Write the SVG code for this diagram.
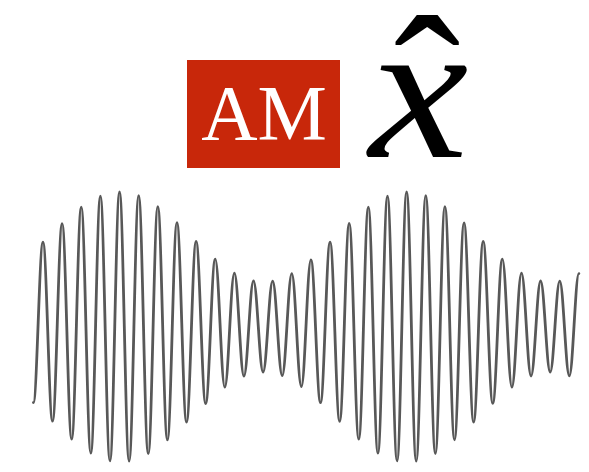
<svg xmlns="http://www.w3.org/2000/svg" width="589" height="472" viewBox="0 0 589 472">
<style>
.box{fill:#C8270A}
.am{font-family:"Liberation Serif","Times New Roman",serif;font-size:78px;fill:#ffffff}
.math{font-family:"Liberation Serif","Times New Roman",serif;font-size:200px;fill:#000000}
.wave{fill:none;stroke:#585858;stroke-width:2.8;stroke-linecap:round;stroke-linejoin:round}
</style>
<rect width="589" height="472" fill="#ffffff"/>
<g id="am-label">
<rect class="box" x="187" y="60" width="153" height="108"/>
<text class="am" x="264" y="139" text-anchor="middle">AM</text>
</g>
<g id="xhat">
<text class="math" transform="translate(369,157) scale(1.12,1)" font-style="italic">x</text>
<text class="math" x="427" y="154" text-anchor="middle">ˆ</text>
</g>
<g id="waveform">
<path class="wave" d="M33.4,402.6 C36.89,402.6 39.48,242.2 42.97,242.2 S49.05,421.2 52.54,421.2 S58.62,223.6 62.11,223.6 S68.19,439.1 71.68,439.1 S77.76,207.2 81.25,207.2 S87.33,453.1 90.82,453.1 S96.9,196.1 100.39,196.1 S106.47,460.9 109.96,460.9 S116.04,192 119.53,192 S125.61,461.1 129.1,461.1 S135.18,195.7 138.67,195.7 S144.75,453.7 148.24,453.7 S154.32,206.6 157.81,206.6 S163.89,439.9 167.38,439.9 S173.46,222.7 176.95,222.7 S183.03,422.2 186.52,422.2 S192.6,241.3 196.09,241.3 S202.17,403.5 205.66,403.5 S211.74,259.1 215.23,259.1 S221.31,387.2 224.8,387.2 S230.88,273.2 234.37,273.2 S240.45,376.1 243.94,376.1 S250.02,280.9 253.51,280.9 S259.59,372 263.08,372 S269.16,281.1 272.65,281.1 S278.73,375.7 282.22,375.7 S288.3,273.6 291.79,273.6 S297.87,386.6 301.36,386.6 S307.44,259.8 310.93,259.8 S317.01,402.7 320.5,402.7 S326.58,242.1 330.07,242.1 S336.15,421.3 339.64,421.3 S345.72,223.5 349.21,223.5 S355.29,439.2 358.78,439.2 S364.86,207.2 368.35,207.2 S374.43,453.2 377.92,453.2 S384,196.1 387.49,196.1 S393.57,460.9 397.06,460.9 S403.14,192 406.63,192 S412.71,461.1 416.2,461.1 S422.28,195.7 425.77,195.7 S431.85,453.6 435.34,453.6 S441.42,206.6 444.91,206.6 S450.99,439.8 454.48,439.8 S460.56,222.8 464.05,222.8 S470.13,422.1 473.62,422.1 S479.7,241.4 483.19,241.4 S489.27,403.4 492.76,403.4 S498.84,259.2 502.33,259.2 S508.41,387.1 511.9,387.1 S517.98,273.2 521.47,273.2 S527.55,376 531.04,376 S537.12,281 540.61,281 S546.69,372 550.18,372 S556.26,281.1 559.75,281.1 S565.83,375.8 569.32,375.8 S575.4,273.6 578.89,273.6"/>
</g>
</svg>
